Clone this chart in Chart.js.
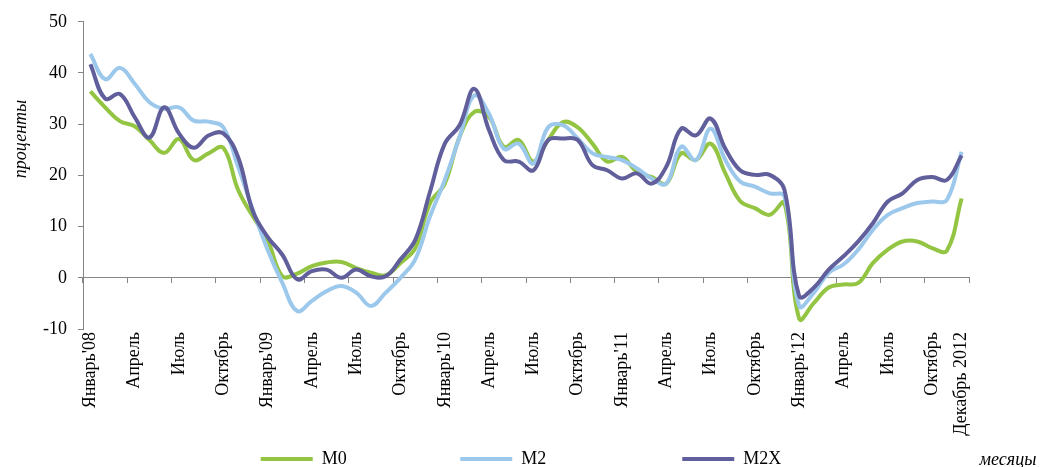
<!DOCTYPE html>
<html>
<head>
<meta charset="utf-8">
<script src="https://cdn.jsdelivr.net/npm/chart.js"></script>
<style>
  html, body { margin: 0; padding: 0; background: #fff; }
  #wrap { width: 1042px; height: 467px; }
</style>
</head>
<body>
<div id="wrap"><canvas id="grafico"></canvas></div>
<script>
// Январь 2008 - Декабрь 2012, по месяцам
const tickLabels = [
  "Январь'08", '', '', 'Апрель', '', '', 'Июль', '', '', 'Октябрь', '', '',
  "Январь'09", '', '', 'Апрель', '', '', 'Июль', '', '', 'Октябрь', '', '',
  "Январь'10", '', '', 'Апрель', '', '', 'Июль', '', '', 'Октябрь', '', '',
  "Январь'11", '', '', 'Апрель', '', '', 'Июль', '', '', 'Октябрь', '', '',
  "Январь'12", '', '', 'Апрель', '', '', 'Июль', '', '', 'Октябрь', '', 'Декабрь 2012'
];

const m0 = [36.4, 33.3, 30.6, 29.6, 26.9, 24.4, 27.1, 23.0, 24.3, 25.4, 17.2, 12.0,
  7.4, 0.3, 0.8, 2.3, 3.0, 3.1, 1.9, 1.0, 0.5, 2.9, 5.8, 14.6,
  18.4, 27.5, 32.4, 31.4, 25.6, 26.9, 22.7, 26.9, 30.4, 29.4, 26.2, 22.7,
  23.6, 20.7, 19.7, 18.4, 24.3, 23.0, 26.2, 20.4, 15.0, 13.6, 12.3, 14.6,
  -8.0, -4.9, -1.9, -1.3, -1.0, 2.9, 5.5, 7.1, 7.1, 5.8, 5.3, 15.5];

const m2 = [43.7, 38.8, 41.0, 37.9, 34.3, 33.0, 33.3, 30.7, 30.5, 29.4, 21.7, 13.3,
  5.5, -1.0, -6.5, -4.5, -2.6, -1.6, -2.9, -5.5, -2.9, 0.0, 3.6, 12.0,
  19.1, 27.5, 35.6, 32.0, 25.2, 26.2, 22.3, 29.4, 29.8, 27.2, 24.3, 23.6,
  23.0, 21.4, 19.4, 18.4, 25.6, 23.0, 29.1, 23.0, 18.8, 17.8, 16.5, 15.9,
  -5.5, -2.9, 1.0, 2.6, 5.5, 9.4, 12.3, 13.6, 14.6, 14.9, 15.2, 24.6];

const m2x = [41.7, 35.0, 35.9, 31.4, 27.4, 33.3, 28.2, 25.4, 27.8, 28.2, 23.6, 13.0,
  8.0, 4.5, -0.3, 1.3, 1.6, 0.0, 1.6, 0.3, 0.3, 3.6, 7.4, 16.8,
  26.2, 29.8, 36.9, 28.8, 23.0, 22.7, 21.0, 26.9, 27.2, 26.9, 22.0, 21.0,
  19.4, 20.4, 18.4, 21.7, 29.1, 27.8, 31.1, 25.2, 21.0, 20.1, 20.1, 17.2,
  -3.6, -1.9, 1.6, 4.2, 7.1, 10.7, 14.9, 16.5, 19.1, 19.7, 19.1, 23.9];

const serie = ['M0', 'M2', 'M2X'];
const colores = ['#93c543', '#9cc8ec', '#605e9b'];
const yTicks = [-10, 0, 10, 20, 30, 40, 50];

const fuente = '"Liberation Serif", "Times New Roman", serif';
const gris = '#868686';
// espacio extra detras del texto de la leyenda
const huecos = [' '.repeat(23), ' '.repeat(28), ''];

const textos = {
  id: 'textos',
  afterDraw(chart) {
    const ctx = chart.ctx;
    ctx.save();
    ctx.fillStyle = '#000';
    ctx.font = 'italic 18px ' + fuente;
    ctx.textAlign = 'center';
    ctx.textBaseline = 'middle';
    ctx.save();
    ctx.translate(21, 139);
    ctx.rotate(-Math.PI / 2);
    ctx.fillText('проценты', 0, 0);
    ctx.restore();
    ctx.fillText('месяцы', 1008, 460);
    ctx.restore();
  }
};

const dataset = (i, data) => ({
  label: serie[i],
  data: data,
  borderColor: colores[i],
  backgroundColor: colores[i],
  borderWidth: 4,
  pointRadius: 0,
  tension: 0.4,
  fill: false,
  order: 3 - i
});

new Chart(document.getElementById('grafico'), {
  type: 'line',
  data: {
    labels: tickLabels,
    datasets: [dataset(0, m0), dataset(1, m2), dataset(2, m2x)]
  },
  options: {
    responsive: true,
    maintainAspectRatio: false,
    animation: false,
    layout: { padding: { top: 20, right: 0, bottom: 0, left: 0 } },
    plugins: {
      tooltip: { enabled: false },
      legend: {
        position: 'bottom',
        maxHeight: 27,
        labels: {
          color: '#000',
          font: { family: fuente, size: 18 },
          boxWidth: 52,
          boxHeight: 4,
          padding: 10,
          sort: (a, b) => a.datasetIndex - b.datasetIndex,
          generateLabels(chart) {
            const items = Chart.defaults.plugins.legend.labels.generateLabels(chart);
            items.forEach(it => {
              const i = it.datasetIndex;
              it.text = serie[i] + huecos[i];
              it.lineWidth = 0;
              it.fillStyle = colores[i];
            });
            return items;
          }
        }
      }
    },
    scales: {
      x: {
        type: 'category',
        position: { y: 0 },
        offset: true,
        grid: {
          offset: true,
          drawOnChartArea: false,
          tickLength: 5,
          color: c => (c.index === undefined || c.index % 3 === 0) ? gris : 'rgba(0,0,0,0)'
        },
        border: { color: gris, width: 1 },
        ticks: { display: false }
      },
      x2: {
        type: 'category',
        position: 'bottom',
        labels: tickLabels,
        offset: true,
        grid: { display: false, drawTicks: false },
        border: { display: false },
        ticks: {
          autoSkip: false,
          minRotation: 90,
          maxRotation: 90,
          padding: 3,
          color: '#000',
          font: { family: fuente, size: 18 }
        },
        afterFit(scale) { scale.height = 111; }
      },
      y: {
        min: yTicks[0],
        max: yTicks[yTicks.length - 1],
        afterBuildTicks(scale) { scale.ticks = yTicks.map(v => ({ value: v })); },
        grid: { drawOnChartArea: false, tickLength: 5, color: gris },
        border: { color: gris, width: 1 },
        ticks: {
          padding: 11,
          color: '#000',
          font: { family: fuente, size: 18 }
        },
        afterFit(scale) { scale.width = 83; }
      },
      // пустое место справа от графика
      yRight: {
        type: 'linear',
        position: 'right',
        grid: { display: false, drawTicks: false },
        border: { display: false },
        ticks: { display: false },
        afterFit(scale) { scale.width = 73; }
      }
    }
  },
  plugins: [textos]
});
</script>
</body>
</html>
